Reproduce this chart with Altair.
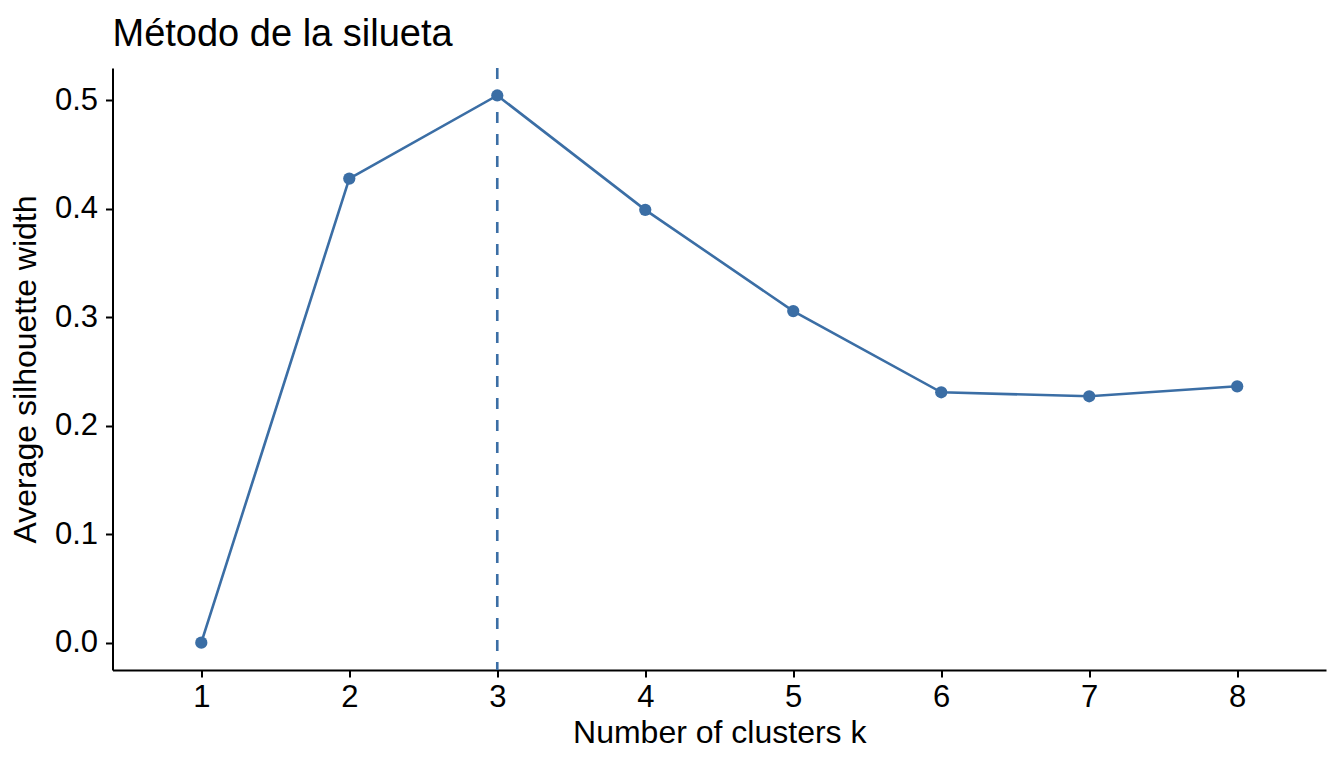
import altair as alt
import pandas as pd

k_values = [1, 2, 3, 4, 5, 6, 7, 8]
silhouette = [0.0, 0.4276, 0.5042, 0.3988, 0.3055, 0.2307, 0.2270, 0.2362]
optimal_k = [3]
y_ticks = [0.0, 0.1, 0.2, 0.3, 0.4, 0.5]

COLOR = "#3B6EA5"
FONT = "Liberation Sans"

df = pd.DataFrame({"k": k_values, "sil": silhouette})
df_opt = pd.DataFrame({"k": optimal_k})

x_scale = alt.Scale(domain=[0.4, 8.6], nice=False, zero=False)
y_scale = alt.Scale(domain=[-0.0252, 0.5295], nice=False, zero=False)

x_axis = alt.Axis(values=k_values, format="d", title="Number of clusters k",
                  labelPadding=5, titlePadding=5)
y_axis = alt.Axis(values=y_ticks, format=".1f", title="Average silhouette width",
                  labelPadding=8, titlePadding=12)

base = alt.Chart(df).encode(
    x=alt.X("k:Q", scale=x_scale, axis=x_axis),
    y=alt.Y("sil:Q", scale=y_scale, axis=y_axis),
)

line = base.mark_line(color=COLOR, strokeWidth=2.6)
points = base.mark_circle(color=COLOR, size=150, opacity=1)

vline = alt.Chart(df_opt).mark_rule(color=COLOR, strokeWidth=2.6, strokeDash=[11, 11]).encode(
    x=alt.X("k:Q", scale=x_scale)
)

chart = (
    alt.layer(vline, line, points)
    .properties(
        width=1213.5,
        height=602,
        padding={"left": 104.5, "top": 60, "right": 10, "bottom": 88},
        autosize=alt.AutoSizeParams(type="none"),
        title=alt.TitleParams(
            "Método de la silueta",
            anchor="start",
            frame="group",
            fontSize=38,
            font=FONT,
            fontWeight="normal",
            color="black",
            offset=13,
        ),
    )
    .configure_view(stroke=None)
    .configure_axis(
        grid=False,
        domainColor="black",
        domainWidth=2,
        tickColor="black",
        tickWidth=2,
        tickSize=7,
        labelColor="black",
        labelFont=FONT,
        labelFontSize=31,
        titleColor="black",
        titleFont=FONT,
        titleFontSize=32,
        titleFontWeight="normal",
    )
)

chart.save("out.html", embed_options={"renderer": "svg", "actions": False})
